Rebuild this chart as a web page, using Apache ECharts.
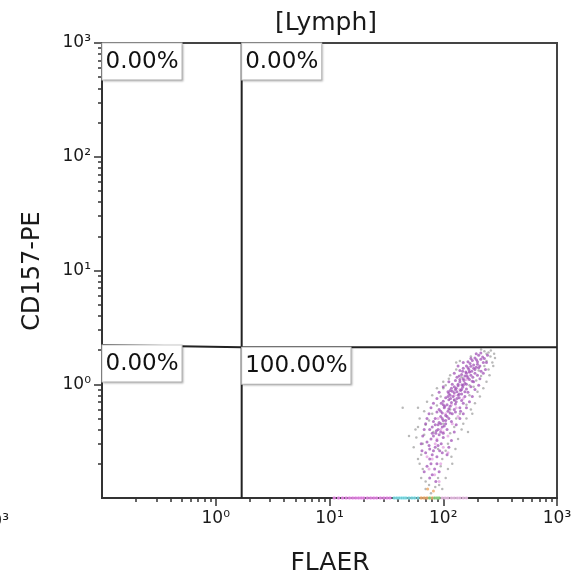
<!DOCTYPE html>
<html>
<head>
<meta charset="utf-8">
<script src="https://cdn.jsdelivr.net/npm/echarts@6/dist/echarts.min.js"></script>
<style>
html, body { margin: 0; padding: 0; background: #fff; }
#chart { width: 584px; height: 580px; }
</style>
</head>
<body>
<div id="chart"></div>
<script>
// plot labels
const plotTitle = '[Lymph]';
const xName = 'FLAER';
const yName = 'CD157-PE';

// log axes, both 10^-1 .. 10^3
const axisMin = 0.1;
const axisMax = 1000;
const decadeLabels = [1, 10, 100, 1000];
const decadeText = ['10⁰', '10¹', '10²', '10³'];

// quadrant gate
const gateX = 1.69;
const gateY = 2.12;
const gateYLeft = 2.21;   // left half of the gate sits a bit higher
const quadrantText = ['0.00%', '0.00%', '0.00%', '100.00%']; // UL, UR, LL, LR

// events [FLAER, CD157-PE]
const purpleEvents = [
    [214,1.88],[205,1.80],[222,1.74],[190,1.70],[180,1.62],[200,1.58],[214,1.66],[196,1.64],
    [172,1.52],[160,1.45],[185,1.48],[195,1.41],[150,1.38],[168,1.35],[178,1.30],[158,1.28],
    [140,1.32],[190,1.25],[165,1.40],[185,1.38],[200,1.50],[175,1.44],[160,1.25],[148,1.30],
    [145,1.22],[162,1.18],[132,1.15],[150,1.12],[170,1.10],[128,1.08],[140,1.05],[155,1.02],
    [180,1.06],[120,1.00],[175,1.20],[152,1.08],[138,1.18],[165,1.14],[146,0.99],
    [135,0.97],[148,0.94],[118,0.92],[128,0.90],[142,0.88],[160,0.91],[110,0.86],[125,0.84],
    [138,0.82],[115,0.80],[135,1.00],[125,0.95],[120,0.87],[150,0.98],[132,0.86],[155,0.86],
    [122,0.78],[105,0.76],[132,0.75],[112,0.73],[145,0.72],[100,0.71],[118,0.69],[128,0.67],
    [108,0.66],[96,0.68],[145,0.82],[112,0.83],[130,0.70],[155,0.78],[138,0.76],[116,0.75],
    [115,0.64],[102,0.62],[125,0.60],[92,0.60],[110,0.58],[98,0.56],[120,0.55],[88,0.57],
    [105,0.53],[103,0.64],[140,0.62],[128,0.57],[112,0.61],
    [95,0.52],[112,0.50],[85,0.50],[100,0.48],[92,0.46],[118,0.47],[82,0.47],[105,0.45],
    [108,0.52],[98,0.50],[90,0.44],[98,0.42],[80,0.42],[108,0.40],[87,0.39],[95,0.38],
    [76,0.40],[102,0.43],[92,0.36],[82,0.35],[100,0.34],[78,0.33],[88,0.32],[96,0.30],
    [72,0.31],[86,0.37],[85,0.28],[76,0.27],[93,0.26],[80,0.24],[70,0.25],[88,0.23],
    [78,0.20],[72,0.19],[84,0.18],[68,0.17],[80,0.16],
    // outer part of the band
    [240,1.55],[235,1.35],[225,1.25],[210,1.12],[205,0.98],[190,0.90],[180,0.78],[170,0.70],
    [160,0.62],[150,0.55],[140,0.50],[130,0.44],[125,0.38],[118,0.32],[112,0.28],[108,0.24],
    [150,1.55],[135,1.45],[125,1.25],[112,1.05],[100,0.95],[92,0.85],[88,0.75],[82,0.68],
    [78,0.62],[75,0.55],[72,0.50],[70,0.45],[68,0.40],[66,0.35],[64,0.30],[65,0.26],
    [190,1.35],[170,1.28],[155,1.18],[182,1.15],[140,1.10],[160,1.00],[130,0.92],[145,0.90],
    [115,0.88],[135,0.80],[110,0.78],[125,0.73],[100,0.66],[115,0.56],[95,0.58],[105,0.48],
    [85,0.44],[95,0.45],[90,0.40],[80,0.37],[100,0.37],[75,0.29],[90,0.29],[82,0.26],
    [98,0.25],[76,0.22],[88,0.20],[92,0.17],[76,0.15],[86,0.14],
    [225,1.55],[210,1.45],[165,1.58],[230,1.68],[245,1.80],[195,1.85],[175,1.68],[205,1.40],
    [215,1.30],[200,1.20],[185,1.05],[175,0.95],[165,0.85],[150,0.68],[142,0.58]
];
const greyEvents = [
    [230,1.95],[250,1.90],[215,2.02],[262,1.98],[260,1.75],[240,1.60],[175,1.75],[230,1.45],
    [205,1.32],[250,1.35],[130,1.35],[215,1.18],[195,1.08],[112,1.12],[185,0.95],[200,0.86],
    [100,0.92],[170,0.80],[95,0.78],[160,0.66],[88,0.65],[140,0.55],[80,0.55],[130,0.50],
    [75,0.48],[125,0.42],[70,0.44],[115,0.37],[68,0.36],[110,0.30],[66,0.30],[105,0.26],
    [64,0.24],[98,0.22],[62,0.20],[95,0.19],[90,0.15],[64,0.15],[75,0.13],[85,0.125],
    [70,0.12],[92,0.13],[78,0.11],[270,1.55],[180,0.55],[60,0.62],[57,0.40],[150,0.45],
    [165,0.38],[120,0.20],[55,0.28],[140,1.60],[285,1.70],[105,0.98],[115,0.60],[82,0.38],
    [90,0.27],[100,0.45],[125,0.72],[145,1.15],[170,0.98],[44,0.62],[50,0.35],[240,1.85],
    [280,1.85],[275,1.45],[255,1.20],[240,1.05],[225,0.92],[210,0.78],[190,0.68],[175,0.60],
    [160,0.50],[145,0.40],[135,0.33],[128,0.27],[118,0.23],[110,0.18],[105,0.15],[98,0.12],
    [130,1.55],[115,1.20],[100,1.05],[88,0.92],[80,0.80],[72,0.70],[68,0.58],[62,0.50],
    [60,0.42],[58,0.34],[60,0.22],[66,0.18],[70,0.14]
];
const pinkEvents = [
    [110,0.35],[95,0.40],[85,0.30],[100,0.28],[120,0.45],[90,0.50],[105,0.55],[130,0.62],
    [80,0.22],[75,0.18],[95,0.20],[110,0.25],[140,0.90],[160,1.10],[125,0.80],[88,0.33],
    [118,0.66],[100,0.38],[72,0.23],[84,0.16],[150,0.75],[135,0.52],[170,1.28],[92,0.14]
];
// events piled on the FLAER axis (CD157-PE at or below the axis minimum)
const axisMagenta = [11, 12, 13, 14, 15, 16, 17, 18, 19, 20, 21.5, 23, 24.5, 26, 28, 30, 32, 34];
const axisCyan = [37, 39, 41, 43, 45, 47, 50, 53, 56, 60];
const axisOrange = [64, 68, 72, 80];
const axisGreen = [76, 84, 88, 92];
const axisPink = [98, 104, 110, 118, 125, 133, 140, 150, 160];
const lowOrange = [[73, 0.12], [82, 0.115]];

const lg = v => Math.log10(v);
const toLog = pts => pts.map(p => [lg(p[0]), lg(p[1])]);
const onAxis = xs => xs.map(x => [lg(x), lg(axisMin)]);

const lo = lg(axisMin), hi = lg(axisMax);
const majorTicks = decadeLabels.map(lg);
const minorTicks = [];
for (let e = lo; e < hi; e++) {
    for (let k = 2; k <= 9; k++) minorTicks.push(lg(k * Math.pow(10, e)));
}

const FONT = 'DejaVu Sans';
const tickColor = '#333';

const decadeLabel = v => decadeText[Math.round(v)] || '';

const mainAxis = (dim) => ({
    type: 'value',
    min: lo,
    max: hi,
    position: dim === 'x' ? 'bottom' : 'left',
    axisLine: { show: true, onZero: false, lineStyle: { color: tickColor, width: 2 } },
    axisTick: { show: true, customValues: majorTicks, length: 8, lineStyle: { color: tickColor, width: 1.5 } },
    axisLabel: {
        show: true,
        customValues: majorTicks,
        margin: dim === 'x' ? 12 : 11,
        fontSize: 17,
        fontFamily: FONT,
        color: '#1a1a1a',
        formatter: decadeLabel
    },
    splitLine: { show: false }
});

const minorAxis = (dim) => ({
    type: 'value',
    min: lo,
    max: hi,
    position: dim === 'x' ? 'bottom' : 'left',
    axisLine: { show: false, onZero: false },
    axisTick: { show: true, customValues: minorTicks, length: 4, lineStyle: { color: tickColor, width: 1.5 } },
    axisLabel: { show: false },
    splitLine: { show: false }
});

const axisDots = (xs, color) => ({
    type: 'scatter',
    data: onAxis(xs),
    symbolSize: 3.5,
    itemStyle: { color: color, opacity: 0.85 },
    z: 4
});

const quadrantLabels = [
    { value: [lo, hi], label: quadrantText[0] },
    { value: [lg(gateX), hi], label: quadrantText[1] },
    { value: [lo, lg(gateYLeft)], label: quadrantText[2] },
    { value: [lg(gateX), lg(gateY)], label: quadrantText[3] }
];

const chart = echarts.init(document.getElementById('chart'));

chart.setOption({
    animation: false,
    backgroundColor: '#fff',
    grid: {
        left: 102, top: 43, right: 27, bottom: 82,
        show: true, borderColor: '#444', borderWidth: 2,
        outerBoundsMode: 'none'
    },
    xAxis: [mainAxis('x'), minorAxis('x')],
    yAxis: [mainAxis('y'), minorAxis('y')],
    graphic: [
        {
            type: 'text', x: 326, y: 23,
            style: { text: plotTitle, fontSize: 25, fontFamily: FONT, fill: '#1a1a1a', align: 'center', verticalAlign: 'middle' }
        },
        {
            type: 'text', x: 330, y: 563,
            style: { text: xName, fontSize: 25, fontFamily: FONT, fill: '#1a1a1a', align: 'center', verticalAlign: 'middle' }
        },
        {
            type: 'text', x: 33, y: 271, rotation: Math.PI / 2,
            style: { text: yName, fontSize: 24, fontFamily: FONT, fill: '#1a1a1a', align: 'center', verticalAlign: 'middle' }
        },
        {
            type: 'text', x: 9, y: 522,
            style: { text: decadeText[3], fontSize: 17, fontFamily: FONT, fill: '#1a1a1a', align: 'right', verticalAlign: 'middle' }
        }
    ],
    series: [
        {
            type: 'scatter', data: toLog(greyEvents), symbolSize: 2.5,
            itemStyle: { color: '#8a8a8a', opacity: 0.6 }, z: 2
        },
        {
            type: 'scatter', data: toLog(pinkEvents), symbolSize: 3,
            itemStyle: { color: '#e6a6e4', opacity: 0.8 }, z: 2
        },
        {
            type: 'scatter', data: toLog(purpleEvents), symbolSize: 3,
            itemStyle: { color: '#9b48b2', opacity: 0.7 }, z: 3
        },
        axisDots(axisMagenta, '#f08cf0'),
        axisDots(axisCyan, '#7fe3ec'),
        axisDots(axisOrange, '#f5b070'),
        axisDots(axisGreen, '#8fd88a'),
        axisDots(axisPink, '#f3c8f0'),
        {
            type: 'scatter', data: toLog(lowOrange), symbolSize: 3,
            itemStyle: { color: '#f0a860', opacity: 0.8 }, z: 3
        },
        // gate lines
        {
            type: 'line', data: [[lg(gateX), lo], [lg(gateX), hi]],
            showSymbol: false, lineStyle: { color: '#222', width: 2 }, z: 5, silent: true
        },
        {
            type: 'line', data: [[lo, lg(gateYLeft)], [lg(gateX), lg(gateY)], [hi, lg(gateY)]],
            showSymbol: false, lineStyle: { color: '#222', width: 2 }, z: 5, silent: true
        },
        // quadrant percentages
        {
            type: 'scatter',
            data: quadrantLabels.map(q => ({ value: q.value, name: q.label })),
            symbolSize: 1,
            itemStyle: { color: 'transparent' },
            z: 6,
            label: {
                show: true,
                position: 'insideTopLeft',
                distance: 1,
                formatter: p => p.name,
                fontSize: 23,
                fontFamily: FONT,
                color: '#111',
                opacity: 1,
                backgroundColor: '#fff',
                borderColor: '#c9c9c9',
                borderWidth: 1,
                padding: [7, 3, 6, 3],
                shadowColor: 'rgba(0,0,0,0.18)',
                shadowBlur: 2,
                shadowOffsetX: 1,
                shadowOffsetY: 1
            }
        }
    ]
});
</script>
</body>
</html>
